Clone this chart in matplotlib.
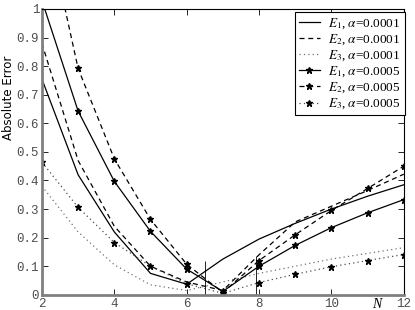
import matplotlib
matplotlib.use("Agg")
import matplotlib.pyplot as plt
import numpy as np

# number of nodes
N = [2, 3, 4, 5, 6, 7, 8, 9, 10, 11, 12]

# alpha = 0.0001
e1_a1 = [0.755, 0.42, 0.22, 0.075, 0.037, 0.125, 0.195, 0.25, 0.30, 0.345, 0.385]
e2_a1 = [0.88, 0.47, 0.24, 0.10, 0.045, 0.015, 0.14, 0.255, 0.31, 0.365, 0.422]
e3_a1 = [0.38, 0.22, 0.105, 0.035, 0.015, 0.045, 0.075, 0.10, 0.125, 0.145, 0.165]

# alpha = 0.0005
e1_a5 = [1.03, 0.643, 0.397, 0.222, 0.09, 0.012, 0.10, 0.173, 0.235, 0.287, 0.333]
e2_a5 = [1.37, 0.792, 0.476, 0.264, 0.107, 0.008, 0.12, 0.21, 0.295, 0.372, 0.45]
e3_a5 = [0.464, 0.306, 0.183, 0.10, 0.039, 0.005, 0.043, 0.072, 0.098, 0.12, 0.141]

# optimal N markers
opt_x = [6.52, 7.91]
opt_h = [0.12, 0.135]

plt.rcParams['mathtext.fontset'] = 'stix'

fig = plt.figure(figsize=(4.15, 3.10), dpi=100)
ax = fig.add_axes([0.101, 0.049, 0.872, 0.922])

dash = (0, (4, 3))
dot = (0, (1, 2.5))
ax.plot(N, e1_a1, color='k', lw=0.9, ls='-', label=r'$E_1$, $\alpha$=0.0001')
ax.plot(N, e2_a1, color='k', lw=0.9, ls=dash, label=r'$E_2$, $\alpha$=0.0001')
ax.plot(N, e3_a1, color='0.45', lw=0.9, ls=dot, label=r'$E_3$, $\alpha$=0.0001')
ax.plot(N, e1_a5, color='k', lw=0.9, ls='-', marker='*', ms=4.5, label=r'$E_1$, $\alpha$=0.0005')
ax.plot(N, e2_a5, color='k', lw=0.9, ls=dash, marker='*', ms=4.5, label=r'$E_2$, $\alpha$=0.0005')
ax.plot(N, e3_a5, color='0.3', lw=0.9, ls=dot, marker='*', ms=4.5, mfc='k', mec='k',
        label=r'$E_3$, $\alpha$=0.0005')

ax.vlines(opt_x, 0, opt_h, color='k', lw=0.6)

ax.set_xlim(2, 12)
ax.set_ylim(0, 1)
ax.set_xticks([2, 4, 6, 8, 10, 12])
ax.set_yticks(np.arange(0, 1.01, 0.1))
ax.set_yticklabels(['0', '0.1', '0.2', '0.3', '0.4', '0.5', '0.6', '0.7', '0.8', '0.9', '1'])
ax.tick_params(direction='in', top=True, right=True, length=4, width=0.6,
               labelsize=9, colors='k', pad=2)
for lab in ax.get_xticklabels() + ax.get_yticklabels():
    lab.set_family('Liberation Mono')
    lab.set_color('0.3')

for s in ['left', 'bottom']:
    ax.spines[s].set_color('0.5')
    ax.spines[s].set_linewidth(2)
for s in ['top', 'right']:
    ax.spines[s].set_color('k')
    ax.spines[s].set_linewidth(0.8)

ax.set_ylabel('Absolute Error', fontsize=8.5, family='DejaVu Sans')
ax.yaxis.set_label_coords(-0.073, 0.69)
ax.text(11.25, -0.012, 'N', fontsize=10, style='italic', family='Liberation Serif',
        ha='center', va='top')

leg = ax.legend(loc='upper right', bbox_to_anchor=(1.002, 0.988),
                prop={'family': 'Liberation Serif', 'size': 9.5},
                frameon=True, fancybox=False, edgecolor='k', framealpha=1,
                handlelength=1.6, handletextpad=0.6, labelspacing=0.12,
                borderpad=0.3, borderaxespad=0)
leg.get_frame().set_linewidth(0.8)

fig.savefig('out.png', dpi=100)
